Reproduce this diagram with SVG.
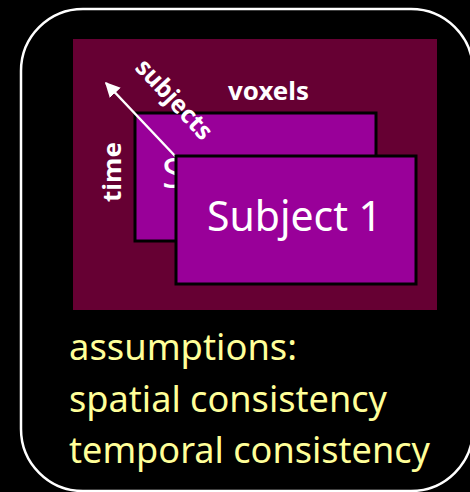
<svg xmlns="http://www.w3.org/2000/svg" width="470" height="492" viewBox="0 0 470 492">
<defs>
<style>
.lbl{font-family:"Noto Sans","Open Sans","Liberation Sans",sans-serif;fill:#ffffff}
.b{font-weight:bold;font-size:25px}
.subj{font-size:41px}
.yel{font-family:"Noto Sans","Open Sans","Liberation Sans",sans-serif;fill:#ffff99;font-size:36px}
.card{fill:#990099;stroke:#000000;stroke-width:3}
</style>
<marker id="ah" viewBox="0 0 10 10" refX="9" refY="5" markerWidth="6" markerHeight="6" orient="auto" markerUnits="strokeWidth">
<path d="M0,0 L10,5 L0,10 z" fill="#ffffff"/>
</marker>
</defs>
<rect width="470" height="492" fill="#000000"/>
<g id="frame">
<rect x="21" y="9" width="452" height="482" rx="62" ry="62" fill="none" stroke="#ffffff" stroke-width="2.5"/>
</g>
<g id="panel">
<rect x="73" y="39" width="364" height="271" fill="#660033"/>
<text class="lbl b" x="228" y="100" textLength="81" lengthAdjust="spacingAndGlyphs">voxels</text>
<text class="lbl b" x="121" y="172" text-anchor="middle" transform="rotate(-90 121 172)" textLength="60" lengthAdjust="spacingAndGlyphs">time</text>
</g>
<g id="subject2">
<rect class="card" x="135" y="113" width="241" height="128"/>
<text class="lbl subj" x="162" y="188">S</text>
</g>
<g id="connectors">
<line x1="176" y1="157" x2="106" y2="83" stroke="#ffffff" stroke-width="2.5" marker-end="url(#ah)"/>
<text class="lbl b" x="168" y="105" text-anchor="middle" transform="rotate(47 168 105)" textLength="100" lengthAdjust="spacingAndGlyphs">subjects</text>
</g>
<g id="subject1">
<rect class="card" x="176" y="156" width="240" height="128"/>
<text class="lbl subj" x="207" y="231" textLength="175" lengthAdjust="spacingAndGlyphs">Subject 1</text>
</g>
<g id="assumptions">
<text class="yel" x="69" y="360" textLength="228" lengthAdjust="spacingAndGlyphs">assumptions:</text>
<text class="yel" x="69" y="412" textLength="318" lengthAdjust="spacingAndGlyphs">spatial consistency</text>
<text class="yel" x="69" y="463" textLength="361" lengthAdjust="spacingAndGlyphs">temporal consistency</text>
</g>
</svg>
